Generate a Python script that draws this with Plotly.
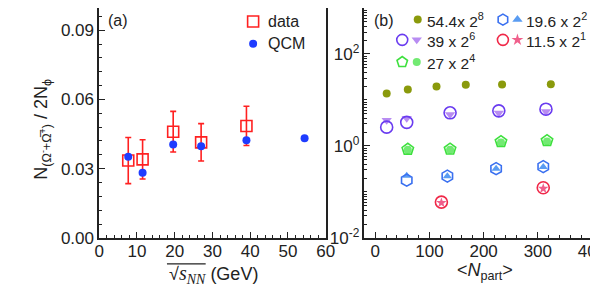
import plotly.graph_objects as go

# ---------------- data: panel (a) ----------------
energy = [7.7, 11.5, 19.6, 27, 39]
ratio_data = [0.0335, 0.034, 0.046, 0.0414, 0.0485]
ratio_err = [0.010, 0.0085, 0.0088, 0.0081, 0.0085]
qcm_energy = [7.7, 11.5, 19.6, 27, 39, 54.4]
ratio_qcm = [0.0351, 0.0282, 0.0405, 0.0397, 0.0423, 0.0432]

# ---------------- data: panel (b) ----------------
np_544 = [21, 60, 113, 167, 234, 324]
y_544 = [13.8, 16.8, 19.5, 21.4, 21.7, 22.0]

np_39 = [21, 58, 138, 228, 315]
y_39_data = [2.56, 3.26, 5.25, 5.8, 6.3]
y_39_qcm = [3.6, 4.0, 4.8, 5.2, 5.6]

np_27 = [60, 138, 232, 317]
y_27_data = [0.845, 0.85, 1.24, 1.30]
y_27_qcm = [0.83, 0.83, 1.18, 1.25]

np_196 = [58, 133, 223, 310]
y_196_data = [0.18, 0.22, 0.32, 0.355]
y_196_qcm = [0.225, 0.22, 0.32, 0.35]

np_115 = [122, 310]
y_115_data = [0.060, 0.123]
y_115_qcm = [0.058, 0.118]

FONT = "Liberation Sans, Arial, sans-serif"
W, H = 598, 293

fig = go.Figure()

# panel (a)
fig.add_trace(go.Scatter(
    x=energy, y=ratio_data, mode="markers", xaxis="x", yaxis="y",
    marker=dict(symbol="square-open", size=11, color="#ff2020", line=dict(width=1.6)),
    error_y=dict(type="data", array=ratio_err, color="#ff2020", thickness=1.6, width=3),
    showlegend=False))
fig.add_trace(go.Scatter(
    x=qcm_energy, y=ratio_qcm, mode="markers", xaxis="x", yaxis="y",
    marker=dict(symbol="circle", size=8, color="#1f3cff"), showlegend=False))

# panel (b)
def add_b(x, y, symbol, color, size, lw=1.6):
    fig.add_trace(go.Scatter(x=x, y=y, mode="markers", xaxis="x2", yaxis="y2",
                             marker=dict(symbol=symbol, size=size, color=color,
                                         line=dict(width=lw, color=color)),
                             showlegend=False))

add_b(np_544, y_544, "circle", "#8a9a0c", 8, 0)
add_b(np_39, y_39_qcm, "triangle-down", "#b88cf2", 9, 0)
add_b(np_39, y_39_data, "circle-open", "#6a3cf0", 12)
add_b(np_27, y_27_qcm, "circle", "#72ea72", 8, 0)
add_b(np_27, y_27_data, "pentagon-open", "#3ee03e", 12)
add_b(np_196, y_196_qcm, "triangle-up", "#5a9cf2", 8, 0)
add_b(np_196, y_196_data, "hexagon-open", "#3a70f0", 12)
add_b(np_115, y_115_qcm, "star", "#f0608c", 8, 0)
add_b(np_115, y_115_data, "circle-open", "#f02848", 12)

# legend keys on an overlay pixel axis
def key(x, y, symbol, color, size, lw=1.6):
    fig.add_trace(go.Scatter(x=[x], y=[y], mode="markers", xaxis="x3", yaxis="y3",
                             marker=dict(symbol=symbol, size=size, color=color,
                                         line=dict(width=lw, color=color)),
                             showlegend=False, hoverinfo="skip"))

key(248, 14, "square-open", "#ff2020", 11)
key(248, 37, "circle", "#1f3cff", 8, 0)
key(418, 12, "circle", "#8a9a0c", 8, 0)
key(402, 33, "circle-open", "#6a3cf0", 11)
key(417, 33, "triangle-down", "#b88cf2", 9, 0)
key(402, 56, "pentagon-open", "#3ee03e", 11)
key(417, 56, "circle", "#72ea72", 8, 0)
key(506, 12, "hexagon-open", "#3a70f0", 11)
key(521, 12, "triangle-up", "#5a9cf2", 9, 0)
key(506, 33, "circle-open", "#f02848", 11)
key(521, 33, "star", "#f0608c", 9, 0)

ticks_common = dict(ticks="inside", ticklen=6, tickwidth=1.3, tickcolor="#222",
                    showline=True, linecolor="#222", linewidth=1.6,
                    showgrid=False, zeroline=False,
                    tickfont=dict(family=FONT, size=17, color="#222"))

log_minor = [k * 10 ** n for n in range(-2, 3) for k in range(1, 10)
             if not (k == 1 and n in (-2, 0, 2))]

ydom = [(H - 238) / H, 1.0]
fig.update_layout(
    width=W, height=H, margin=dict(l=0, r=0, t=0, b=0),
    paper_bgcolor="white", plot_bgcolor="rgba(0,0,0,0)",
    xaxis=dict(domain=[89 / W, 323 / W], range=[0, 60], dtick=10,
               ticklabelstandoff=-3,
               minor=dict(dtick=2, ticks="inside", ticklen=3, tickcolor="#222"),
               anchor="y", **ticks_common),
    yaxis=dict(domain=ydom, range=[0, 0.0996], tickvals=[0, 0.03, 0.06, 0.09],
               ticktext=["0.00", "0.03", "0.06", "0.09"], mirror=True,
               minor=dict(dtick=0.006, ticks="inside", ticklen=3, tickcolor="#222"),
               anchor="x", **ticks_common),
    xaxis2=dict(domain=[363 / W, 1.0], range=[-20, 400], dtick=100,
                ticklabeloverflow="allow", ticklabelstandoff=-3,
                minor=dict(dtick=20, ticks="inside", ticklen=3, tickcolor="#222"),
                anchor="y2", **ticks_common),
    yaxis2=dict(domain=ydom, type="log", range=[-2, 3],
                tickvals=[0.01, 1, 100],
                ticktext=["10<sup>-2</sup>", "10<sup>0</sup>", "10<sup>2</sup>"],
                minor=dict(tickvals=log_minor, ticks="inside", ticklen=3, tickcolor="#222"),
                anchor="x2", **ticks_common),
    xaxis3=dict(domain=[0, 1], range=[0, W], visible=False, anchor="y3", fixedrange=True),
    yaxis3=dict(domain=[0, 1], range=[H, 0], visible=False, anchor="x3", fixedrange=True),
)

def text(x, y, s, size=16, xanchor="left", angle=0):
    fig.add_annotation(x=x / W, y=1 - y / H, xref="paper", yref="paper", text=s,
                       showarrow=False, xanchor=xanchor, yanchor="middle",
                       textangle=angle, font=dict(family=FONT, size=size, color="#222"))

text(96, 13, "(a)")
text(371, 13, "(b)")
text(261, 14, "data")
text(261, 37, "QCM")
text(426, 12, "54.4x 2<sup>8</sup>", size=15.5)
text(426, 33, "39 x 2<sup>6</sup>", size=15.5)
text(426, 56, "27 x 2<sup>4</sup>", size=15.5)
text(528, 12, "19.6 x 2<sup>2</sup>", size=15.5)
text(528, 33, "11.5 x 2<sup>1</sup>", size=15.5)
text(31, 126, "N<sub>(Ω<sup>-</sup>+Ω̅<sup>+</sup>)</sub> / 2N<sub>ϕ</sub>", size=18,
     xanchor="center", angle=-90)
fig.add_annotation(x=207 / W, y=1 - 276 / H, xref="paper", yref="paper",
                   text="√<span style='font-family:Liberation Serif;font-size:20px'><i>s<sub>NN</sub></i></span> (GeV)",
                   showarrow=False, xanchor="center", yanchor="middle",
                   font=dict(family=FONT, size=18, color="#222"))
# radical overline
fig.add_shape(type="line", xref="paper", yref="paper",
              x0=159 / W, x1=199 / W, y0=1 - 265 / H, y1=1 - 265 / H,
              line=dict(color="#222", width=1.3))
fig.add_annotation(x=487 / W, y=1 - 273 / H, xref="paper", yref="paper",
                   text="&lt;<i>N</i><sub>part</sub>&gt;",
                   showarrow=False, xanchor="center", yanchor="middle",
                   font=dict(family=FONT, size=18, color="#222"))

fig.write_html("out.html")
